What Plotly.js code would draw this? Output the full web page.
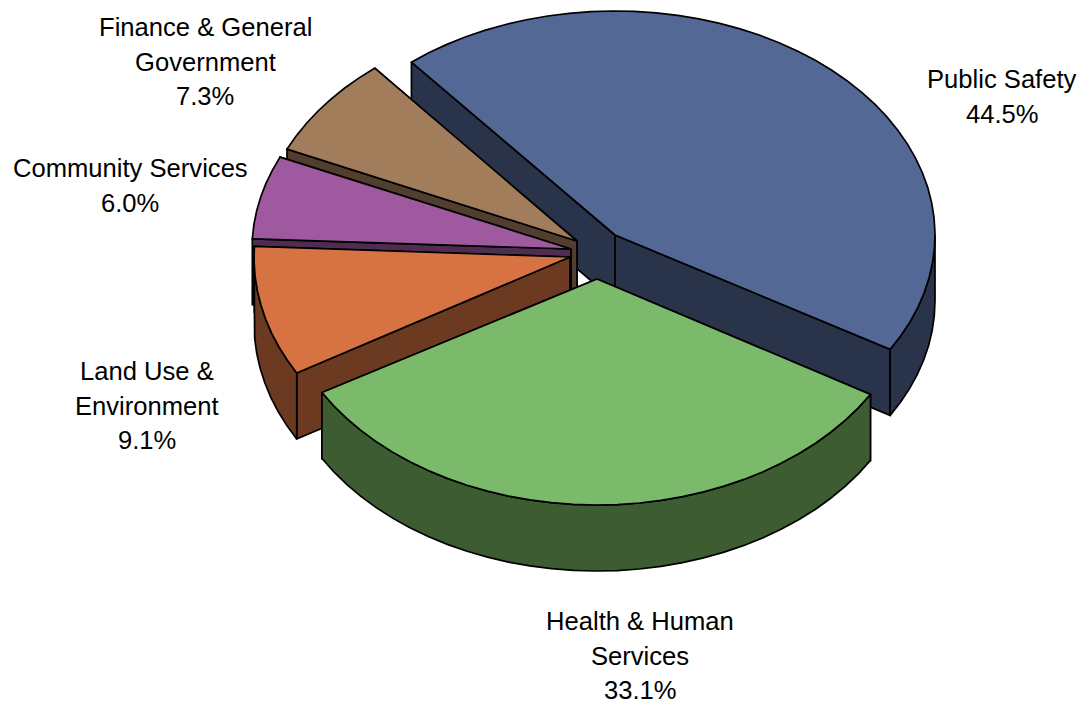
<!DOCTYPE html>
<html>
<head>
<meta charset="utf-8">
<script src="https://cdn.plot.ly/plotly-3.0.1.min.js"></script>
<style>html,body{margin:0;padding:0;background:#fff}</style>
</head>
<body>
<div id="chart" style="width:1083px;height:702px"></div>
<script>
// Data, clockwise from the upper-left edge of Public Safety
const categories = ["Public Safety", "Health & Human Services", "Land Use & Environment", "Community Services", "Finance & General Government"];
const shares = [44.5, 33.1, 9.1, 6.0, 7.3];
const labelLines = [["Public Safety"], ["Health & Human", "Services"], ["Land Use &", "Environment"], ["Community Services"], ["Finance & General", "Government"]];

// Styles
const topColors = ["#536895", "#7BBA6A", "#D77243", "#9E599F", "#A27D5C"];
const wallColors = ["#29344B", "#3E5C32", "#6C3921", "#4F2C50", "#513E2E"];

// Projection of the exploded pie in pixel space
const explodeX = [615, 597, 570, 571, 577];
const explodeY = [235, 279, 257, 249, 241];
const radiusX = [320, 318, 316, 319, 318];
const radiusY = [224, 226, 231, 224, 224];
const depth = 66;
const startAngle = 129.5;
const paintOrder = [0, 4, 3, 2, 1];
const labelX = [1002, 640, 147, 130, 205];
const labelY = [79, 621, 371, 168, 27];
const lineStep = 34.5;

const rad = d => d * Math.PI / 180;
function arc(i, from, to, dy) {
  const xs = [], ys = [];
  const n = Math.max(1, Math.ceil(Math.abs(to - from) / 4));
  for (let k = 0; k <= n; k++) {
    const a = rad(from + (to - from) * k / n);
    xs.push(explodeX[i] + radiusX[i] * Math.cos(a));
    ys.push(explodeY[i] - radiusY[i] * Math.sin(a) + dy);
  }
  return {xs, ys};
}
function poly(xs, ys, color) {
  return {type: "scatter", mode: "lines", x: xs.concat(xs[0]), y: ys.concat(ys[0]), fill: "toself",
    fillcolor: color, line: {color: "#000", width: 1.7}, hoverinfo: "skip", showlegend: false};
}
const angles = [];
let cursor = startAngle;
shares.forEach(v => { angles.push([cursor, cursor - v * 3.6]); cursor -= v * 3.6; });

const traces = [];
paintOrder.forEach(i => {
  const [a0, a1] = angles[i];
  const cx = explodeX[i], cy = explodeY[i];
  // radial walls, the one further back first
  const ends = [arc(i, a0, a0, 0), arc(i, a1, a1, 0)].sort((p, q) => p.ys[0] - q.ys[0]);
  ends.forEach(p => {
    const ex = p.xs[0], ey = p.ys[0];
    traces.push(poly([cx, ex, ex, cx], [cy, ey, ey + depth, cy + depth], wallColors[i]));
  });
  // outer rim: only the part of the arc that faces the viewer (below the horizontal axis)
  const hi = Math.min(a0, 0), lo = Math.max(a1, -180);
  if (hi > lo) {
    const t = arc(i, hi, lo, 0), b = arc(i, lo, hi, depth);
    traces.push(poly(t.xs.concat(b.xs), t.ys.concat(b.ys), wallColors[i]));
  }
  // top face
  const rimTop = arc(i, a0, a1, 0);
  traces.push(poly([cx].concat(rimTop.xs), [cy].concat(rimTop.ys), topColors[i]));
});

const annotations = [];
categories.forEach((c, i) => {
  const lines = labelLines[i].concat(shares[i].toFixed(1) + "%");
  lines.forEach((t, j) => {
    annotations.push({x: labelX[i], y: labelY[i] + j * lineStep, xref: "x", yref: "y", text: t, showarrow: false,
      xanchor: "center", yanchor: "middle", font: {family: "Liberation Sans, Arial, sans-serif", size: 25.6, color: "#000"}});
  });
});

Plotly.newPlot("chart", traces, {
  width: 1083, height: 702, autosize: false,
  margin: {l: 0, r: 0, t: 0, b: 0},
  paper_bgcolor: "#fff", plot_bgcolor: "#fff", showlegend: false,
  xaxis: {range: [0, 1083], visible: false, fixedrange: true},
  yaxis: {range: [702, 0], visible: false, fixedrange: true},
  annotations
}, {displayModeBar: false, staticPlot: true});
</script>
</body>
</html>
